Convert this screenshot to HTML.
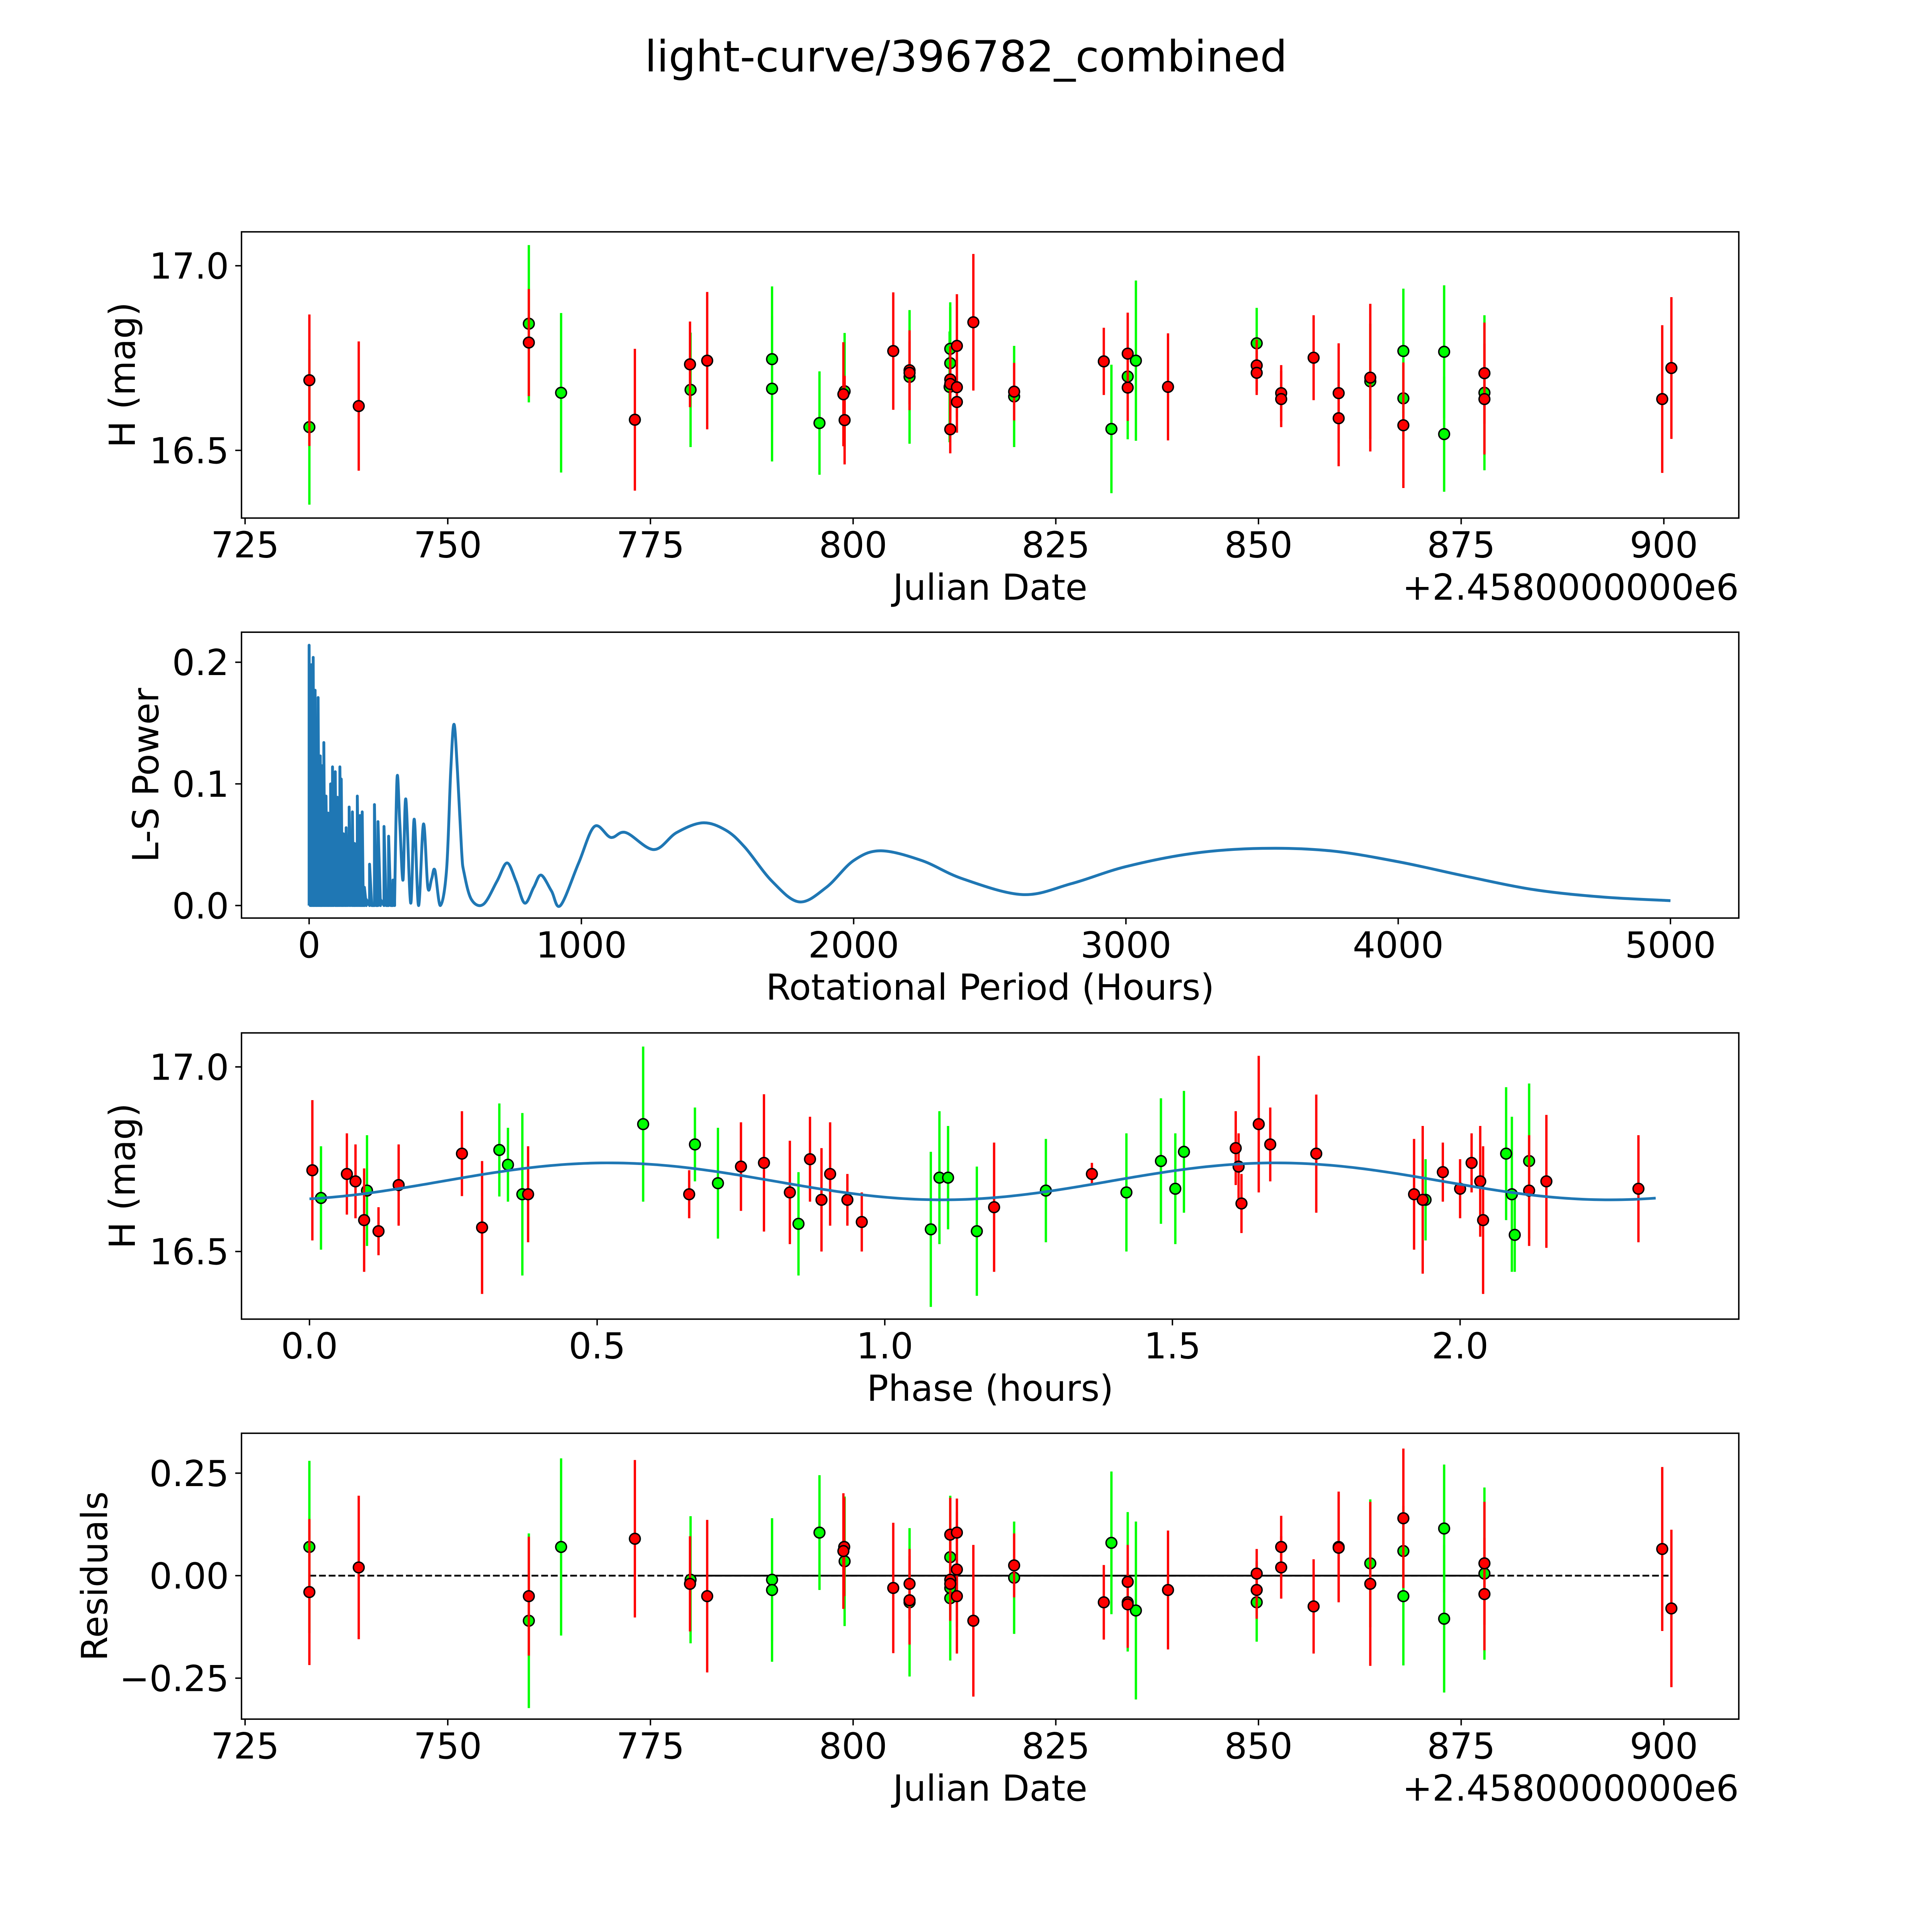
<!DOCTYPE html>
<html><head><meta charset="utf-8"><title>light-curve/396782_combined</title>
<style>html,body{margin:0;padding:0;background:#fff;overflow:hidden;width:100%;height:100%;}svg{display:block;width:100vw;height:100vh;}text{font-family:"DejaVu Sans","Liberation Sans",sans-serif;fill:#000;}</style>
</head><body>
<svg id="fig" xmlns="http://www.w3.org/2000/svg" viewBox="0 0 5400 5400" preserveAspectRatio="none">
<rect x="0" y="0" width="5400" height="5400" fill="#fff"/>
<text x="2700" y="200" font-size="120" text-anchor="middle">light-curve/396782_combined</text>
</svg>
<script>
// ---- Panel 1: light curve ----
const lcDates=[732.93,732.93,739.02,760.0,760.0,763.98,773.08,779.88,779.95,782.0,790.0,790.0,795.85,798.95,798.8,798.95,804.95,806.96,806.96,806.96,811.98,811.98,811.98,811.9,811.98,811.98,812.8,812.8,812.8,814.83,819.86,819.86,830.92,831.86,833.87,833.87,833.87,834.88,838.84,849.78,849.78,849.78,852.8,852.8,856.8,859.89,859.89,863.79,863.79,867.87,867.87,867.87,872.9,872.9,877.87,877.87,877.87,899.8,900.93];
const lcMags=[16.563,16.690,16.620,16.843,16.792,16.656,16.583,16.733,16.664,16.743,16.747,16.667,16.574,16.660,16.652,16.582,16.769,16.717,16.710,16.699,16.775,16.736,16.692,16.672,16.680,16.557,16.783,16.671,16.631,16.847,16.659,16.646,16.741,16.558,16.762,16.70,16.67,16.743,16.672,16.79,16.73,16.71,16.655,16.639,16.751,16.655,16.587,16.697,16.687,16.769,16.641,16.568,16.767,16.544,16.709,16.656,16.639,16.639,16.723];
const lcErrs=[0.21,0.178,0.175,0.213,0.145,0.216,0.192,0.116,0.155,0.186,0.197,0.197,0.14,0.158,0.141,0.12,0.159,0.108,0.085,0.181,0.126,0.152,0.09,0.15,0.1,0.065,0.14,0.082,0.083,0.185,0.078,0.137,0.091,0.174,0.111,0.17,0.09,0.217,0.145,0.096,0.07,0.06,0.076,0.076,0.115,0.135,0.13,0.2,0.156,0.169,0.11,0.17,0.18,0.156,0.137,0.21,0.15,0.2,0.192];
const lcBands=['g','r','r','g','r','g','r','r','g','r','g','g','g','g','r','r','r','r','r','g','g','g','r','g','r','r','r','r','r','r','r','g','r','g','r','g','r','g','r','g','r','r','r','r','r','r','r','r','g','g','g','r','g','g','r','g','r','r','r'];
// ---- Panel 2: periodogram ----
const spikePeriods=[0,4,8,11,15,18,22,26,29,33,37,41,44,46,50,54,58,62,66,70,74,79,82,86,90,96,100,104,108,113,118,122,126,131,136,141,147,153,159,163,167,172,177,182,187,191,195,199,203,210,222,230,240,246,253,262,275,283,292,300,308,314];
const spikePowers=[0.214,0.16,0.198,0.15,0.204,0.13,0.177,0.14,0.12,0.171,0.10,0.123,0.09,0.115,0.08,0.134,0.07,0.09,0.06,0.076,0.05,0.10,0.06,0.114,0.05,0.11,0.04,0.089,0.05,0.114,0.104,0.03,0.059,0.04,0.064,0.02,0.081,0.03,0.077,0.02,0.051,0.01,0.090,0.02,0.074,0.01,0.077,0.01,0.015,0.005,0.034,0.0,0.083,0.0,0.069,0.005,0.065,0.0,0.057,0.0,0.021,0.004];
const smoothPeriods=[314,323,333,345,355,373,386,402,420,436,450,462,482,505,520,532,545,560,569,596,640,690,727,760,792,825,852,890,923,990,1048,1108,1163,1266,1350,1446,1530,1600,1700,1800,1900,2000,2100,2250,2400,2620,2800,3000,3250,3500,3750,4000,4250,4500,4750,5000];
const smoothPowers=[0.004,0.105,0.068,0.021,0.0876,0.002,0.071,0.0,0.067,0.015,0.022,0.029,0.0,0.03,0.11,0.149,0.11,0.045,0.027,0.005,0.001,0.02,0.035,0.02,0.002,0.015,0.025,0.012,0.0,0.035,0.065,0.056,0.060,0.046,0.06,0.068,0.062,0.048,0.02,0.003,0.015,0.037,0.045,0.037,0.022,0.009,0.018,0.032,0.043,0.047,0.045,0.036,0.024,0.013,0.007,0.004];
// ---- Panel 3: phased ----
const phPhase=[0.005,0.02,0.065,0.08,0.095,0.10,0.12,0.155,0.265,0.30,0.33,0.345,0.37,0.38,0.58,0.66,0.67,0.71,0.75,0.79,0.835,0.85,0.87,0.89,0.905,0.935,0.96,1.08,1.095,1.11,1.16,1.19,1.28,1.36,1.42,1.48,1.505,1.52,1.61,1.615,1.62,1.65,1.67,1.75,1.92,1.935,1.94,1.97,2.0,2.02,2.035,2.04,2.08,2.09,2.095,2.12,2.12,2.15,2.31];
const phMags=[16.72,16.645,16.71,16.69,16.585,16.665,16.555,16.68,16.765,16.565,16.775,16.735,16.655,16.655,16.845,16.655,16.79,16.685,16.73,16.74,16.66,16.575,16.75,16.64,16.71,16.64,16.58,16.56,16.70,16.70,16.555,16.62,16.665,16.71,16.66,16.745,16.67,16.77,16.78,16.73,16.63,16.845,16.79,16.765,16.655,16.64,16.64,16.715,16.67,16.74,16.69,16.585,16.765,16.655,16.545,16.665,16.745,16.69,16.67];
const phErrs=[0.19,0.14,0.11,0.1,0.14,0.15,0.065,0.11,0.115,0.18,0.126,0.1,0.22,0.13,0.21,0.065,0.1,0.15,0.12,0.186,0.14,0.14,0.115,0.14,0.14,0.07,0.08,0.21,0.18,0.14,0.175,0.175,0.14,0.03,0.16,0.17,0.15,0.165,0.1,0.09,0.08,0.185,0.1,0.16,0.15,0.2,0.11,0.08,0.08,0.08,0.15,0.2,0.18,0.21,0.1,0.15,0.21,0.18,0.145];
const phBands=['r','g','r','r','r','g','r','r','r','r','g','g','g','r','g','r','g','g','r','r','r','g','r','r','r','r','r','g','g','g','g','r','g','r','g','g','g','g','r','r','r','r','r','r','r','r','g','r','r','r','r','r','g','g','g','r','g','r','r'];
const fitMean=[16.69], fitAmp=[0.05], fitPeriod=[1.16], fitPhase0=[0.23], fitRange=[0,2.34];
// ---- Panel 4: residuals ----
const resDates=[732.93,732.93,739.02,760.0,760.0,763.98,773.08,779.88,779.95,782.0,790.0,790.0,795.85,798.9,798.8,798.95,804.95,806.96,806.96,806.96,811.98,811.98,811.98,811.98,811.98,811.98,812.8,812.8,812.8,814.83,819.86,819.86,830.92,831.86,833.87,833.87,833.87,833.87,834.88,838.84,849.78,849.78,849.78,852.8,852.8,856.8,859.89,859.89,863.79,863.79,867.87,867.87,867.87,872.9,872.9,877.87,877.87,877.87,899.8,900.93];
const resVals=[0.07,-0.04,0.02,-0.05,-0.11,0.07,0.09,-0.02,-0.01,-0.05,-0.01,-0.035,0.105,0.07,0.06,0.035,-0.03,-0.02,-0.06,-0.065,0.10,0.045,-0.01,-0.03,-0.055,-0.02,0.105,0.015,-0.05,-0.11,0.025,-0.005,-0.065,0.08,-0.015,-0.015,-0.065,-0.07,-0.085,-0.035,0.005,-0.035,-0.065,0.07,0.02,-0.075,0.07,0.068,0.03,-0.02,0.14,0.06,-0.05,0.115,-0.105,0.03,0.005,-0.045,0.065,-0.08];
const resErrs=[0.21,0.178,0.175,0.145,0.213,0.216,0.192,0.116,0.155,0.186,0.15,0.175,0.14,0.12,0.141,0.158,0.159,0.085,0.108,0.181,0.09,0.15,0.1,0.126,0.152,0.065,0.083,0.14,0.14,0.185,0.078,0.137,0.091,0.174,0.09,0.17,0.111,0.09,0.217,0.145,0.06,0.07,0.096,0.076,0.076,0.115,0.135,0.13,0.156,0.2,0.17,0.11,0.169,0.156,0.18,0.15,0.21,0.137,0.2,0.192];
const resBands=['g','r','r','r','g','g','r','r','g','r','g','g','g','r','r','g','r','r','r','g','r','g','r','g','g','r','r','r','r','r','r','g','r','g','r','g','r','r','g','r','r','r','g','r','r','r','r','r','g','r','r','g','g','g','g','r','g','r','r','r'];
const jdTicks=[725,750,775,800,825,850,875,900];
const periodTicks=[0,1000,2000,3000,4000,5000];
const phaseTicks=[0.0,0.5,1.0,1.5,2.0];
const magTicks=[16.5,17.0];
const powerTicks=[0.0,0.1,0.2];
const resTicks=[-0.25,0.0,0.25];

const NS='http://www.w3.org/2000/svg';
const svg=document.getElementById('fig');
function mk(tag,attrs,parent){const e=document.createElementNS(NS,tag);for(const k in attrs)e.setAttribute(k,attrs[k]);(parent||svg).appendChild(e);return e;}
const L=675,R=4860;
const P=[
 {top:648,bot:1448,x:d=>685+(d-725)*22.66,y:m=>742.8+(17-m)*1032},
 {top:1767,bot:2566,x:p=>864+p*0.761,y:v=>2531-v*3400},
 {top:2887,bot:3687,x:h=>865+h*1608,y:m=>2982+(17-m)*1032},
 {top:4006,bot:4805,x:d=>685+(d-725)*22.66,y:r=>4404-r*1146}
];
const COL={r:'#ff0000',g:'#00ff00'};

function clip(i){const d=mk('clipPath',{id:'c'+i});mk('rect',{x:L,y:P[i].top,width:R-L,height:P[i].bot-P[i].top},d);}
[0,1,2,3].forEach(clip);

function axes(i,xt,xfmt,yt,yfmt,xlabel,ylabel,ylabX,name){
 const p=P[i];
 const g=mk('g',{});
 
 
 xt.forEach(t=>{const x=p.x(t);
  const tk=mk('line',{x1:x,x2:x,y1:p.bot,y2:p.bot+17.5,stroke:'#000','stroke-width':4},g);
  
  
  const tl=mk('text',{x:x,y:p.bot+110,'font-size':100,'text-anchor':'middle'},g);
  tl.textContent=xfmt(t);
  
  
 });
 yt.forEach(t=>{const y=p.y(t);
  const tk=mk('line',{x1:L-17.5,x2:L,y1:y,y2:y,stroke:'#000','stroke-width':4},g);
  
  
  const tl=mk('text',{x:L-35,y:y+36,'font-size':100,'text-anchor':'end'},g);
  tl.textContent=yfmt(t);
  
  
 });
 const xl=mk('text',{x:(L+R)/2,y:p.bot+228,'font-size':100,'text-anchor':'middle'},g);
 xl.textContent=xlabel;
 
 
 const cy=(p.top+p.bot)/2;
 const yl=mk('text',{x:ylabX,y:cy,'font-size':100,'text-anchor':'middle',transform:`rotate(-90 ${ylabX} ${cy})`},g);
 yl.textContent=ylabel;
 
 
 return g;
}
function frame(i){const p=P[i];const f=mk('rect',{x:L,y:p.top,width:R-L,height:p.bot-p.top,fill:'none',stroke:'#000','stroke-width':4});
 
 }
function offsetText(i){const o=mk('text',{x:R,y:P[i].bot+228,'font-size':100,'text-anchor':'end'});o.textContent='+2.4580000000e6';
 
 }
function errPoints(i,xs,ys,es,bs,name){
 const p=P[i];const g=mk('g',{'clip-path':`url(#c${i})`});
 
 
 ['g','r'].forEach(b=>{
  for(let k=0;k<xs.length;k++){if(bs[k]!==b)continue;
   const x=p.x(xs[k]);
   const ln=mk('line',{x1:x,x2:x,y1:p.y(ys[k]+es[k]),y2:p.y(ys[k]-es[k]),stroke:COL[b],'stroke-width':6.5},g);
   
   
  }
  for(let k=0;k<xs.length;k++){if(bs[k]!==b)continue;
   const c=mk('circle',{cx:p.x(xs[k]),cy:p.y(ys[k]),r:15,fill:COL[b],stroke:'#000','stroke-width':4},g);
   
   
  }
 });
}
const f1=v=>v.toFixed(1);
// Panel 1
axes(0,jdTicks,t=>String(t),magTicks,f1,'Julian Date','H (mag)',377,'light-curve');
errPoints(0,lcDates,lcMags,lcErrs,lcBands,'light-curve-points');
frame(0);offsetText(0);
// Panel 2
axes(1,periodTicks,t=>String(t),powerTicks,f1,'Rotational Period (Hours)','L-S Power',442,'periodogram');
(function(){const p=P[1];let d='';
 for(let k=0;k<spikePeriods.length;k++){const x=p.x(spikePeriods[k]);
  d+=(k?'L':'M')+x.toFixed(1)+' '+p.y(0).toFixed(1)+' L'+x.toFixed(1)+' '+p.y(spikePowers[k]).toFixed(1)+' ';}
 const pts=smoothPeriods.map((t,k)=>[p.x(t),p.y(smoothPowers[k])]);
 d+='L'+pts[0][0].toFixed(1)+' '+pts[0][1].toFixed(1)+' ';
 for(let k=0;k<pts.length-1;k++){const p0=pts[Math.max(0,k-1)],p1=pts[k],p2=pts[k+1],p3=pts[Math.min(pts.length-1,k+2)];
  const c1=[p1[0]+(p2[0]-p0[0])/6,p1[1]+(p2[1]-p0[1])/6],c2=[p2[0]-(p3[0]-p1[0])/6,p2[1]-(p3[1]-p1[1])/6];
  d+=`C${c1[0].toFixed(1)} ${c1[1].toFixed(1)} ${c2[0].toFixed(1)} ${c2[1].toFixed(1)} ${p2[0].toFixed(1)} ${p2[1].toFixed(1)} `;}
 const path=mk('path',{d:d,fill:'none',stroke:'#1f77b4','stroke-width':8,'stroke-linejoin':'round','clip-path':'url(#c1)'});
 
 
})();
frame(1);
// Panel 3
axes(2,phaseTicks,f1,magTicks,f1,'Phase (hours)','H (mag)',377,'phased-curve');
errPoints(2,phPhase,phMags,phErrs,phBands,'phased-points');
(function(){const p=P[2];let d='';const n=240;
 for(let k=0;k<=n;k++){const h=fitRange[0]+(fitRange[1]-fitRange[0])*k/n;
  const m=fitMean[0]+fitAmp[0]*Math.sin(2*Math.PI*(h-fitPhase0[0])/fitPeriod[0]);
  d+=(k?'L':'M')+p.x(h).toFixed(1)+' '+p.y(m).toFixed(1)+' ';}
 const path=mk('path',{d:d,fill:'none',stroke:'#1f77b4','stroke-width':7.5});
 
 
})();
frame(2);
// Panel 4
axes(3,jdTicks,t=>String(t),resTicks,t=>(t<0?'\u2212':'')+Math.abs(t).toFixed(2),'Julian Date','Residuals',299,'residuals');
(function(){const p=P[3];
 const z=mk('line',{x1:p.x(Math.min(...resDates)),x2:p.x(Math.max(...resDates)),y1:p.y(0),y2:p.y(0),stroke:'#000','stroke-width':5,'stroke-dasharray':'19 8'});
 
 
 const s=mk('line',{x1:p.x(780),x2:p.x(878),y1:p.y(0),y2:p.y(0),stroke:'#000','stroke-width':5});
 
 
})();
errPoints(3,resDates,resVals,resErrs,resBands,'residual-points');
frame(3);offsetText(3);
</script>
</body></html>
